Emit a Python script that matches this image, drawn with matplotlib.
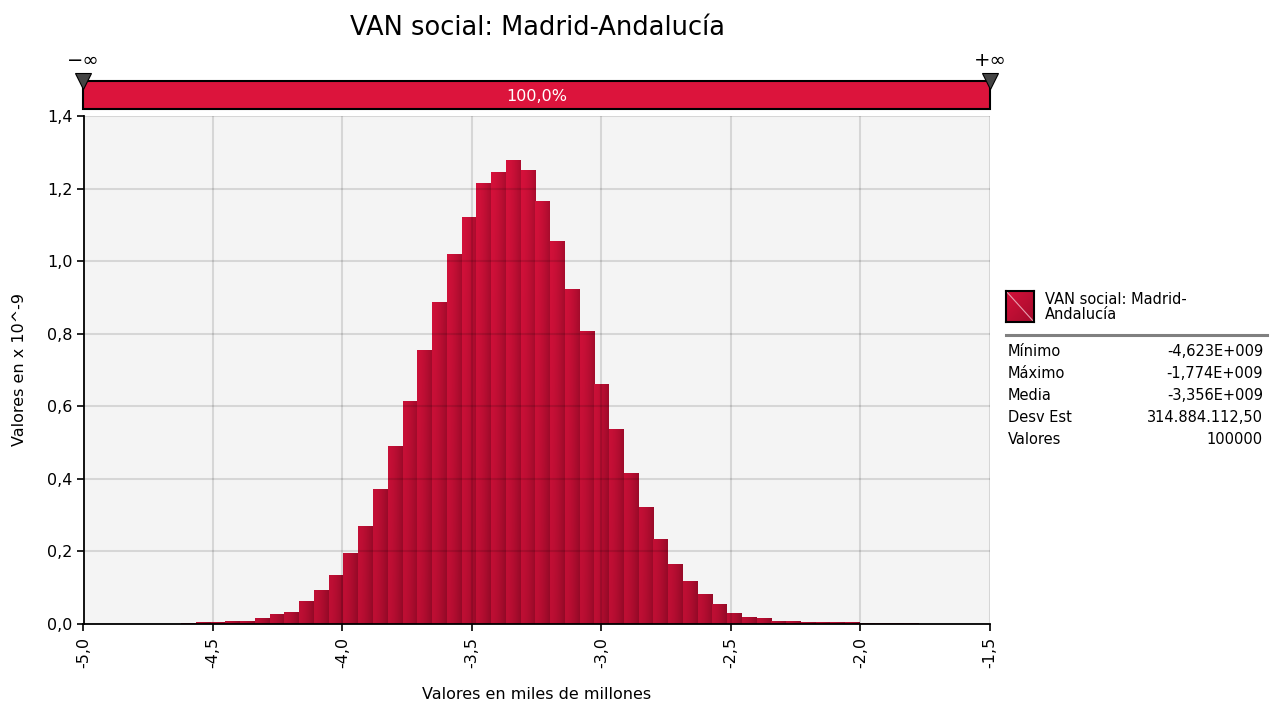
import numpy as np
import matplotlib
matplotlib.use("Agg")
import matplotlib.pyplot as plt
from matplotlib.patches import Rectangle
from matplotlib.ticker import FixedLocator, FixedFormatter

plt.rcParams['font.family'] = ['DejaVu Sans']

# ---------------- data ----------------
title = "VAN social: Madrid-Andalucía"
series_name = "VAN social: Madrid-\nAndalucía"
data_min = -4.623
data_max = -1.774
n_bins = 50
densities = [0.002, 0.003, 0.003, 0.008, 0.008, 0.014, 0.025, 0.033, 0.061, 0.091,
             0.135, 0.193, 0.270, 0.372, 0.489, 0.612, 0.755, 0.887, 1.017, 1.119,
             1.215, 1.245, 1.276, 1.251, 1.163, 1.053, 0.923, 0.806, 0.659, 0.535,
             0.416, 0.320, 0.234, 0.165, 0.116, 0.080, 0.055, 0.028, 0.019, 0.014,
             0.008, 0.008, 0.004, 0.003, 0.003, 0.003, 0.002, 0.002, 0.002, 0.002]
xticks = [-5.0, -4.5, -4.0, -3.5, -3.0, -2.5, -2.0, -1.5]
xtick_labels = ["-5,0", "-4,5", "-4,0", "-3,5", "-3,0", "-2,5", "-2,0", "-1,5"]
yticks = [0.0, 0.2, 0.4, 0.6, 0.8, 1.0, 1.2, 1.4]
ytick_labels = ["0,0", "0,2", "0,4", "0,6", "0,8", "1,0", "1,2", "1,4"]
stat_names = ["Mínimo", "Máximo", "Media", "Desv Est", "Valores"]
stat_values = ["-4,623E+009", "-1,774E+009", "-3,356E+009", "314.884.112,50", "100000"]
band_label = "100,0%"
xlabel = "Valores en miles de millones"
ylabel = "Valores en x 10^-9"

# ---------------- figure ----------------
W, H = 1272, 709
fig = plt.figure(figsize=(W / 100, H / 100), dpi=100)
fig.patch.set_facecolor("white")

def fx(px):
    return px / W

def fy(py):
    return 1 - py / H

ax_l, ax_r, ax_t, ax_b = 83.5, 990, 116, 624
ax = fig.add_axes([fx(ax_l), fy(ax_b), fx(ax_r) - fx(ax_l), fy(ax_t) - fy(ax_b)])
ax.set_facecolor("#F4F4F4")

xmin, xmax = -5.0, -1.5
ymin, ymax = 0.0, 1.4

bright = np.array([0.87, 0.07, 0.24])
dark = np.array([0.50, 0.03, 0.13])

edges = np.linspace(data_min, data_max, n_bins + 1)
bars = ax.bar(edges[:-1], densities, width=np.diff(edges), align="edge",
              color="none", edgecolor="none", linewidth=0)
for rect, h in zip(bars, densities):
    x0 = rect.get_x()
    w = rect.get_width()
    nx, ny = 24, max(2, int(h / ymax * 200))
    tx = np.linspace(0, 1, nx)[None, :]
    ty = np.linspace(0, h, ny)[:, None] / ymax
    a = 0.06 + 0.45 * tx ** 1.6 + 0.28 * (1 - ty)
    a = np.clip(a, 0, 1)
    img = bright[None, None, :] * (1 - a[..., None]) + dark[None, None, :] * a[..., None]
    ax.imshow(img, extent=[x0, x0 + w, 0, h], origin="lower", aspect="auto",
              interpolation="bilinear", zorder=1)

ax.set_xlim(xmin, xmax)
ax.set_ylim(ymin, ymax)
ax.xaxis.set_major_locator(FixedLocator(xticks))
ax.xaxis.set_major_formatter(FixedFormatter(xtick_labels))
ax.yaxis.set_major_locator(FixedLocator(yticks))
ax.yaxis.set_major_formatter(FixedFormatter(ytick_labels))
ax.set_axisbelow(False)
ax.grid(True, color="black", alpha=0.12, linewidth=1.5)
for s in ["top", "right"]:
    ax.spines[s].set_visible(False)
for s in ["left", "bottom"]:
    ax.spines[s].set_color("black")
    ax.spines[s].set_linewidth(1.3)
    ax.spines[s].set_zorder(3)
ax.tick_params(axis="both", direction="out", length=5, width=1.2, color="black",
               labelsize=11.5, labelcolor="black")
ax.tick_params(axis="x", labelrotation=90, pad=4)
ax.tick_params(axis="y", pad=3)
ax.set_xlabel(xlabel, fontsize=11.5, labelpad=14)
ax.set_ylabel(ylabel, fontsize=11.5, labelpad=14)

fig.text(fx(538), fy(28), title, ha="center", va="center", fontsize=18.5)

# ---------------- top band ----------------
axb = fig.add_axes([fx(ax_l), fy(109), fx(ax_r) - fx(ax_l), fy(81) - fy(109)])
axb.set_xlim(xmin, xmax)
axb.set_ylim(0, 1)
axb.axis("off")
axb.add_patch(Rectangle((xmin, 0), xmax - xmin, 1, facecolor="#DC143C",
                        edgecolor="black", linewidth=1.5, clip_on=False, zorder=1))
axb.text((xmin + xmax) / 2, 0.45, band_label, ha="center", va="center",
         color="white", fontsize=11.5)
axb.plot([xmin, xmax], [1.0, 1.0], linestyle="none", marker="v", markersize=12,
         markerfacecolor="#444444", markeredgecolor="black", markeredgewidth=0.8,
         clip_on=False, zorder=5)
axb.text(xmin, 1.75, "−∞", ha="center", va="center", fontsize=14)
axb.text(xmax, 1.75, "+∞", ha="center", va="center", fontsize=14)

# ---------------- legend ----------------
axs = fig.add_axes([fx(1006), fy(322), fx(1034) - fx(1006), fy(291) - fy(322)])
g = np.linspace(0, 1, 30)
ga = 0.1 + 0.5 * (g[None, :] + (1 - g[:, None])) / 2
simg = bright[None, None, :] * (1 - ga[..., None]) + dark[None, None, :] * ga[..., None]
axs.imshow(simg, extent=[0, 1, 0, 1], origin="lower", aspect="auto")
axs.plot([0, 1], [1, 0], color="#E8A0B0", linewidth=0.8)
axs.set_xlim(0, 1)
axs.set_ylim(0, 1)
axs.set_xticks([])
axs.set_yticks([])
for s in axs.spines.values():
    s.set_linewidth(1.5)
    s.set_color("black")

fig.text(fx(1045), fy(307), series_name, ha="left", va="center", fontsize=10.5,
         linespacing=1.05)
fig.add_artist(plt.Line2D([fx(1006), fx(1267)], [fy(335), fy(335)], color="#808080",
                          linewidth=2.2))
for i, (n, v) in enumerate(zip(stat_names, stat_values)):
    yy = fy(352 + 22 * i)
    fig.text(fx(1008), yy, n, ha="left", va="center", fontsize=10.5)
    fig.text(fx(1263), yy, v, ha="right", va="center", fontsize=10.5)

fig.savefig("out.png", dpi=100, facecolor="white")
